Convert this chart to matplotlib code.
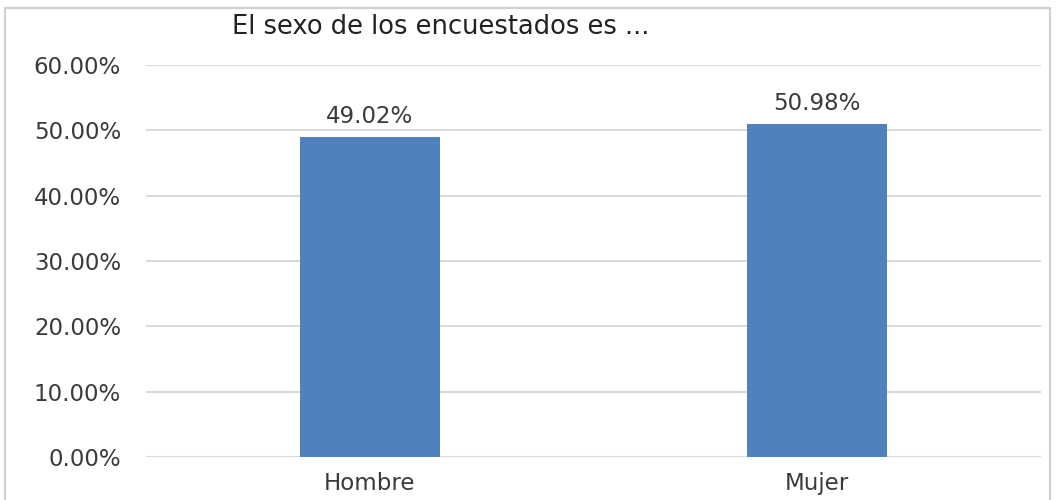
import matplotlib.pyplot as plt
from matplotlib.patches import Rectangle

plt.rcParams['font.family'] = ['DejaVu Sans']

categorias = ['Hombre', 'Mujer']
porcentajes = [49.02, 50.98]
ticks_y = [0, 10, 20, 30, 40, 50, 60]

cor_barra = '#4f81bd'
cor_texto = '#3a3a3a'
cor_grade = '#d9d9d9'

fig = plt.figure(figsize=(10.57, 5.0), dpi=100)
fig.patch.set_facecolor('white')

# moldura cinza clara do gráfico
fig.patches.append(Rectangle((5 / 1057, -0.01), 1045 / 1057, 0.995 - 5 / 500 + 0.01,
                             transform=fig.transFigure, fill=False,
                             edgecolor='#d0d0d0', linewidth=1.5))

ax = fig.add_axes([146 / 1057, 43 / 500, 895 / 1057, 392 / 500])
x = range(len(categorias))
barras = ax.bar(x, porcentajes, width=0.313, color=cor_barra, zorder=3)

for b, v in zip(barras, porcentajes):
    ax.text(b.get_x() + b.get_width() / 2, v + 1.3, f"{v:.2f}%",
            ha='center', va='bottom', fontsize=16.5, color=cor_texto)

ax.set_xlim(-0.5, 1.5)
ax.set_ylim(0, 60)
ax.set_yticks(ticks_y)
ax.set_yticklabels([f"{t:.2f}%" for t in ticks_y])
ax.set_xticks(list(x))
ax.set_xticklabels(categorias)
ax.tick_params(axis='both', length=0, labelsize=16.5, colors=cor_texto)
ax.tick_params(axis='y', pad=18)
ax.tick_params(axis='x', pad=11)

ax.grid(axis='y', color=cor_grade, linewidth=1.5, zorder=0)
for s in ax.spines.values():
    s.set_visible(False)

fig.text(441 / 1057, 1 - 27 / 500, "El sexo de los encuestados es ...",
         ha='center', va='center', fontsize=18.5, color='#222222')

plt.savefig('out.png', dpi=100, facecolor='white')
plt.close()
